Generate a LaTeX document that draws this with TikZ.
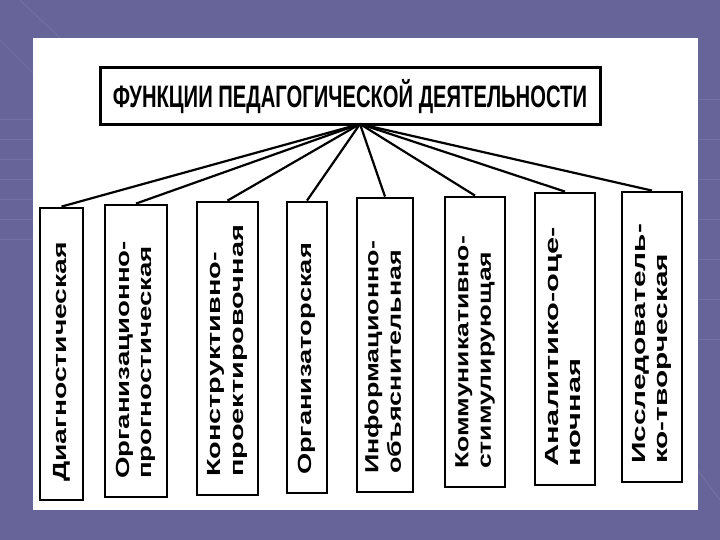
\documentclass[tikz,border=0pt]{standalone}
\usepackage{fontspec}
\setmainfont{Liberation Sans}
\usepackage{graphicx}
\definecolor{bgblue}{RGB}{102,100,152}
\definecolor{bgstripe}{RGB}{122,120,170}
\newcommand{\fnlabel}[2]{\resizebox{#1pt}{\height}{\begin{tabular}{@{}l@{}}#2\end{tabular}}}
\tikzset{
  fnbox/.style={draw=black, line width=2.8pt, fill=white, rotate=90,
    inner xsep=18pt, inner ysep=0pt, align=left,
    font=\bfseries\fontsize{19}{22.5}\selectfont},
  link/.style={draw=black, line width=2.2pt},
  stripe/.style={draw=bgstripe, line width=1pt, opacity=0.6}
}
\begin{document}
\begin{tikzpicture}[x=1pt,y=1pt]
\fill[bgblue] (0,0) rectangle (720,540);
\useasboundingbox (0,0) rectangle (720,540);
% faint background stripes
\foreach \yy in {300,320,340,360,380,400,420} {\draw[stripe] (0,\yy) -- (33,\yy);}
\foreach \yy in {200,240,280,320,360,400,440} {\draw[stripe] (698,\yy) -- (720,\yy);}
\draw[stripe] (0,500) -- (40,460);
\draw[stripe] (20,540) -- (60,502);
\draw[stripe] (690,80) -- (720,40);
% white panel
\fill[white] (33,30) rectangle (698,502);
% title
\node[draw=black, line width=3pt, fill=white, minimum width=500pt, minimum height=57pt, inner sep=0pt] (title) at (350,443.5)
  {\resizebox{474pt}{\height}{\fontsize{31}{31}\selectfont\bfseries ФУНКЦИИ ПЕДАГОГИЧЕСКОЙ ДЕЯТЕЛЬНОСТИ}};
\coordinate (hub) at (360,416);
% boxes
\node[fnbox, text width=256pt, minimum height=43pt] (b1) at (61.5,186) {\fnlabel{240}{Диагностическая}};
\node[fnbox, text width=256pt, minimum height=62pt] (b2) at (136,189) {\fnlabel{238}{Организационно-\\прогностическая}};
\node[fnbox, text width=257pt, minimum height=61pt] (b3) at (227.5,191.5) {\fnlabel{252}{Конструктивно-\\проектировочная}};
\node[fnbox, text width=255pt, minimum height=40pt] (b4) at (307,192.5) {\fnlabel{232}{Организаторская}};
\node[fnbox, text width=258pt, minimum height=56pt] (b5) at (385,195) {\fnlabel{233}{Информационно-\\объяснительная}};
\node[fnbox, text width=254pt, minimum height=60pt] (b6) at (475,198) {\fnlabel{233}{Коммуникативно-\\стимулирующая}};
\node[fnbox, text width=256pt, minimum height=60pt] (b7) at (565,201) {\fnlabel{240}{Аналитико-оце-\\ночная}};
\node[fnbox, text width=254pt, minimum height=60pt] (b8) at (652,203) {\fnlabel{240}{Исследователь-\\ко-творческая}};
% connectors
\foreach \b in {b1,b2,b3,b4,b5,b6,b7,b8} {\draw[link] (hub) -- (\b.east);}
\end{tikzpicture}
\end{document}
